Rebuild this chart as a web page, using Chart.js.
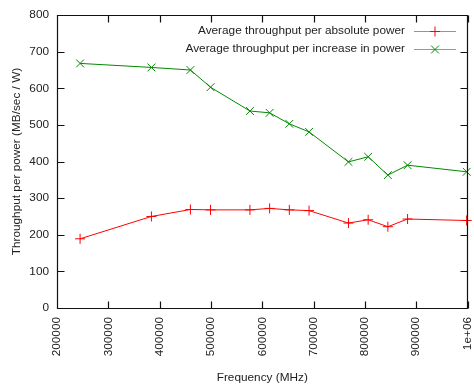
<!DOCTYPE html>
<html>
<head>
<meta charset="utf-8">
<script src="https://cdn.jsdelivr.net/npm/chart.js@4/dist/chart.umd.min.js"></script>
<style>
  html, body { margin: 0; padding: 0; background: #fff; }
  #wrap { width: 474px; height: 386px; }
</style>
</head>
<body>
<div id="wrap"><canvas id="myChart" width="474" height="386"></canvas></div>
<script>
// frequencies (x) and the two measured series
const freqs = [245000, 384000, 460000, 499200, 576000, 614400, 652800, 691200, 768000, 806400, 844800, 883200, 998400];
const absPower = [189, 250, 269, 268, 268, 272, 268, 266, 232, 241, 222, 243, 239];
const incPower = [668, 657, 650, 603, 538, 533, 503, 481, 399, 413, 363, 390, 372];
const labelAbs = 'Average throughput per absolute power';
const labelInc = 'Average throughput per increase in power';
const xTicks = [200000, 300000, 400000, 500000, 600000, 700000, 800000, 900000, 1000000];
const yTicks = [0, 100, 200, 300, 400, 500, 600, 700, 800];

const FONT = { family: '"Liberation Sans", Arial, sans-serif', size: 11.8 };
const TICK = 7;

// gnuplot-like frame with inward ticks on all four sides
const framePlugin = {
  id: 'frame',
  afterDatasetsDraw(chart) {
    const { ctx, chartArea: a, scales } = chart;
    const L = Math.round(a.left) + 0.5, R = Math.round(a.right) - 0.5;
    const T = Math.round(a.top) + 0.5, B = Math.round(a.bottom) + 0.5;
    ctx.save();
    ctx.strokeStyle = '#111';
    ctx.lineWidth = 1.2;
    ctx.beginPath();
    ctx.rect(L, T, R - L, B - T);
    xTicks.forEach(v => {
      const px = Math.round(scales.x.getPixelForValue(v)) + 0.5;
      ctx.moveTo(px, B); ctx.lineTo(px, B - TICK);
      ctx.moveTo(px, T); ctx.lineTo(px, T + TICK);
    });
    yTicks.forEach(v => {
      const py = Math.round(scales.y.getPixelForValue(v)) + 0.5;
      ctx.moveTo(L, py); ctx.lineTo(L + TICK, py);
      ctx.moveTo(R, py); ctx.lineTo(R - TICK, py);
    });
    ctx.stroke();
    ctx.restore();
  }
};

// key placed inside the plot, top right
const keyPlugin = {
  id: 'key',
  afterDraw(chart) {
    const { ctx } = chart;
    const textRight = 405, lineX0 = 414, lineX1 = 456;
    ctx.save();
    ctx.font = FONT.size + 'px ' + FONT.family;
    ctx.textAlign = 'right';
    ctx.textBaseline = 'middle';
    chart.data.datasets.forEach((ds, i) => {
      const y = 31 + i * 18;
      ctx.fillStyle = '#222';
      ctx.fillText(ds.label, textRight, y);
      ctx.strokeStyle = ds.borderColor;
      ctx.lineWidth = 1;
      ctx.globalAlpha = 0.6;
      ctx.beginPath();
      ctx.moveTo(lineX0, y + 0.5); ctx.lineTo(lineX1, y + 0.5);
      ctx.stroke();
      ctx.globalAlpha = 1;
      Chart.helpers.drawPoint(ctx, { pointStyle: ds.pointStyle, radius: ds.pointRadius, rotation: 0, borderWidth: 1 }, (lineX0 + lineX1) / 2, y + 0.5);
    });
    ctx.restore();
  }
};

const ctx = document.getElementById('myChart').getContext('2d');
const chart = new Chart(ctx, {
  type: 'line',
  data: {
    datasets: [{
      label: labelAbs,
      data: freqs.map((f, i) => ({ x: f, y: absPower[i] })),
      borderColor: '#ff0000',
      backgroundColor: '#ff0000',
      borderWidth: 1,
      pointStyle: 'cross',
      pointRadius: 5,
      pointBorderWidth: 1,
      tension: 0,
      clip: false
    }, {
      label: labelInc,
      data: freqs.map((f, i) => ({ x: f, y: incPower[i] })),
      borderColor: '#008a00',
      backgroundColor: '#008a00',
      borderWidth: 1,
      pointStyle: 'crossRot',
      pointRadius: 5.5,
      pointBorderWidth: 1,
      tension: 0,
      clip: false
    }]
  },
  options: {
    responsive: false,
    animation: false,
    layout: { padding: { top: 13, right: -2, left: 0, bottom: 0 } },
    plugins: { legend: { display: false }, tooltip: { enabled: false } },
    scales: {
      x: {
        type: 'linear',
        min: 200000,
        max: 1000000,
        afterBuildTicks: s => { s.ticks = xTicks.map(v => ({ value: v })); },
        afterFit: s => { s.height = 78; s.paddingLeft = 0; s.paddingRight = 0; },
        grid: { display: false, drawTicks: false },
        border: { display: false },
        ticks: {
          font: FONT, color: '#222', padding: 9,
          minRotation: 90, maxRotation: 90, autoSkip: false,
          callback: v => v === 1000000 ? '1e+06' : String(v)
        },
        title: { display: true, text: 'Frequency (MHz)', font: FONT, color: '#222', padding: { top: 0, bottom: 1 } }
      },
      y: {
        min: 0,
        max: 800,
        afterBuildTicks: s => { s.ticks = yTicks.map(v => ({ value: v })); },
        afterFit: s => { s.width = 57; },
        grid: { display: false, drawTicks: false },
        border: { display: false },
        ticks: { font: FONT, color: '#222', padding: 8 },
        title: { display: true, text: 'Throughput per power (MB/sec / W)', font: FONT, color: '#222', padding: { top: 10, bottom: 0 } }
      }
    }
  },
  plugins: [framePlugin, keyPlugin]
});
</script>
</body>
</html>
